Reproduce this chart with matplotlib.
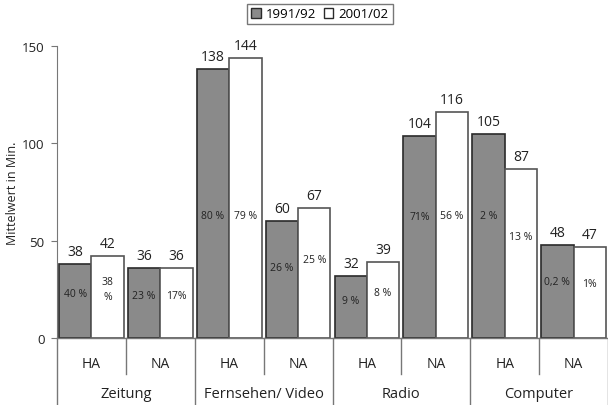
import matplotlib
matplotlib.use("Agg")
import matplotlib.pyplot as plt
from matplotlib.patches import Patch

plt.rcParams['font.family'] = ['Open Sans', 'DejaVu Sans']

categories = ["Zeitung", "Fernsehen/ Video", "Radio", "Computer"]
sub_labels = ["HA", "NA", "HA", "NA", "HA", "NA", "HA", "NA"]
series_names = ["1991/92", "2001/02"]
values_1991 = [38, 36, 138, 60, 32, 104, 105, 48]
values_2001 = [42, 36, 144, 67, 39, 116, 87, 47]
pct_1991 = ["40 %", "23 %", "80 %", "26 %", "9 %", "71%", "2 %", "0,2 %"]
pct_2001 = ["38\n%", "17%", "79 %", "25 %", "8 %", "56 %", "13 %", "1%"]
yticks = [0, 50, 100, 150]

gray = "#8a8a8a"
edge_dark = "#2a2a2a"
edge_light = "#555555"

fig = plt.figure(figsize=(6.08, 4.06), dpi=100)
ax = fig.add_axes([57/608, (406-339)/406, 1 - 57/608, (339-47)/406])
ax.set_xlim(0, 8)
ax.set_ylim(0, 150)

w = 0.47
for i in range(8):
    x0 = i + 0.03
    ax.bar(x0, values_1991[i], width=w, align='edge', color=gray,
           edgecolor=edge_dark, linewidth=1.2, zorder=3)
    ax.bar(x0 + w, values_2001[i], width=w, align='edge', color='white',
           edgecolor=edge_light, linewidth=1.2, zorder=3)
    ax.text(x0 + w/2, values_1991[i] + 2.5, str(values_1991[i]), ha='center',
            va='bottom', fontsize=10, color='#222222')
    ax.text(x0 + 1.5*w, values_2001[i] + 2.5, str(values_2001[i]), ha='center',
            va='bottom', fontsize=10, color='#222222')
    y1 = min(values_1991[i]*0.6, 63)
    y2 = min(values_2001[i]*0.6, 63)
    ax.text(x0 + w/2, y1, pct_1991[i], ha='center', va='center',
            fontsize=7.5, color='#222222', zorder=4)
    ax.text(x0 + 1.5*w, y2, pct_2001[i], ha='center', va='center',
            fontsize=7.5, color='#222222', zorder=4, linespacing=1.4)

# axes styling
for s in ['top', 'right', 'bottom']:
    ax.spines[s].set_visible(False)
ax.spines['left'].set_color('#777777')
ax.set_yticks(yticks)
ax.set_yticklabels([str(t) for t in yticks], fontsize=9.5, color='#222222')
ax.tick_params(axis='y', length=4, color='#777777', pad=5)
ax.set_xticks([])
ax.set_ylabel("Mittelwert in Min.", fontsize=9, color='#222222')
ax.yaxis.set_label_coords(-38/551, 0.5)

# category axis drawn below
tr = ax.get_xaxis_transform()
ax.plot([0, 8], [0, 0], transform=tr, color='#777777', lw=1, clip_on=False, zorder=5)
ax_h = 292.0
def ay(px_below):
    return -px_below / ax_h
for i in range(9):
    if i % 2 == 0:
        ax.plot([i, i], [0, ay(67)], transform=tr, color='#777777', lw=1, clip_on=False)
    else:
        ax.plot([i, i], [0, ay(36)], transform=tr, color='#777777', lw=1, clip_on=False)
for i, lab in enumerate(sub_labels):
    ax.text(i + 0.5, ay(26), lab, transform=tr, ha='center', va='center',
            fontsize=10, color='#222222')
for j, cat in enumerate(categories):
    ax.text(2*j + 1, ay(56), cat, transform=tr, ha='center', va='center',
            fontsize=10.5, color='#222222')

handles = [Patch(facecolor=gray, edgecolor=edge_dark, label=series_names[0]),
           Patch(facecolor='white', edgecolor=edge_dark, label=series_names[1])]
fig.legend(handles=handles, loc='center', bbox_to_anchor=(320/608, 1 - 15/406),
           ncol=2, fontsize=9.5, frameon=True, fancybox=False, edgecolor='#555555',
           handlelength=0.7, handleheight=0.7, handletextpad=0.4, columnspacing=0.6,
           borderpad=0.3)

fig.savefig("out.png", dpi=100)
